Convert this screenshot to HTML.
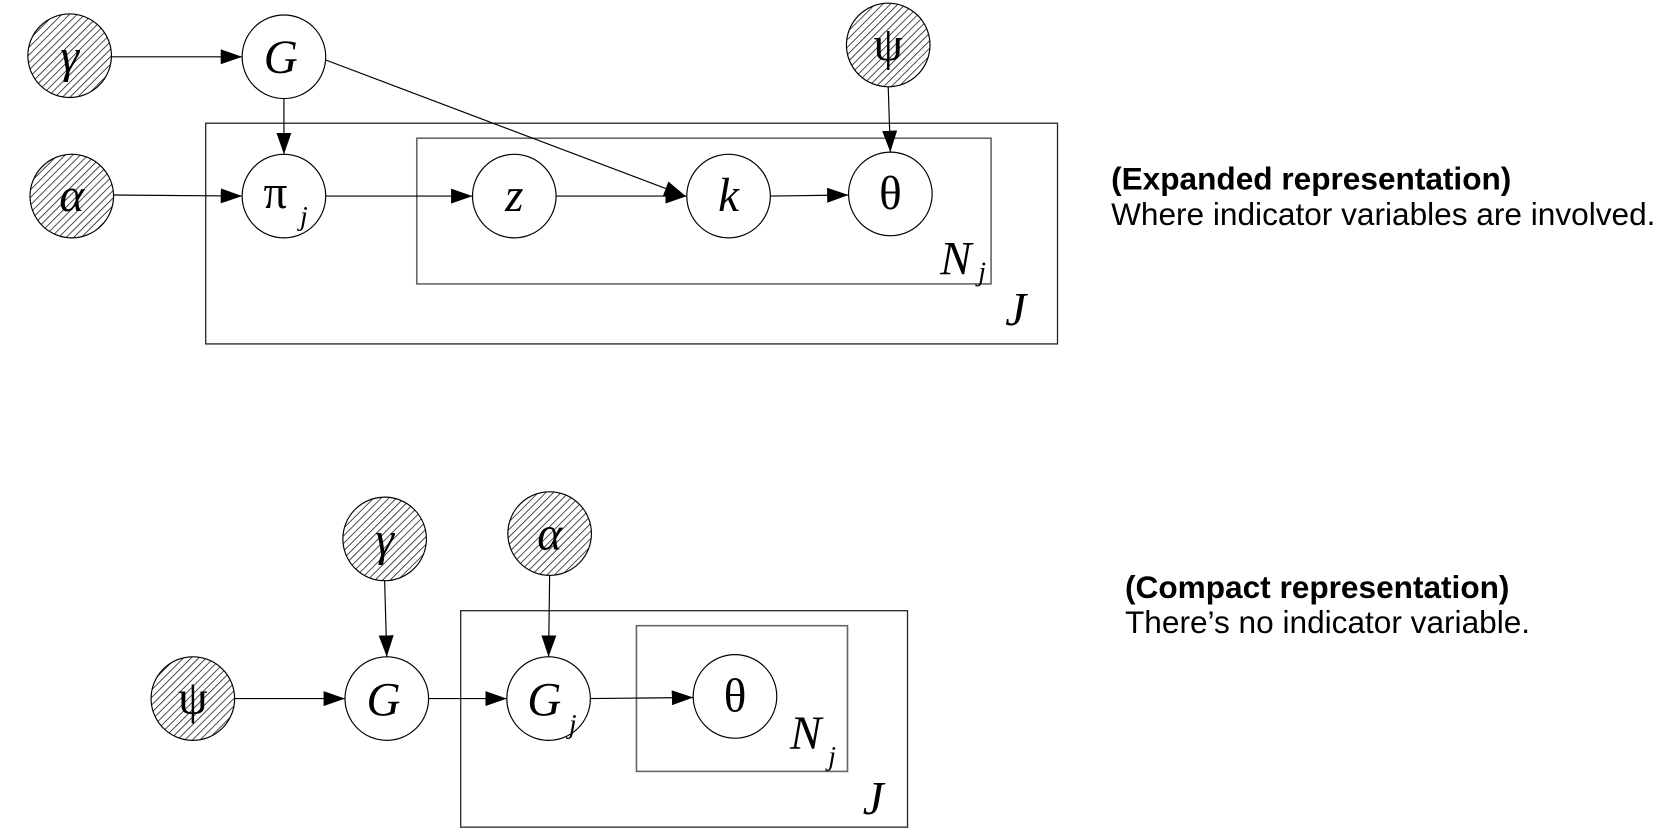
<!DOCTYPE html>
<html><head><meta charset="utf-8"><style>
html,body{margin:0;padding:0;background:#fff;}
svg{display:block;}
.n{font-family:"Liberation Serif",serif;font-size:44px;text-anchor:middle;}
.i{font-style:italic;}
.s{font-family:"Liberation Serif",serif;font-style:italic;font-size:26px;}
.t{font-family:"Liberation Sans",sans-serif;font-size:29.5px;}
</style></head><body>
<svg width="1680" height="840" viewBox="0 0 1568 784" xmlns="http://www.w3.org/2000/svg">
<defs>
<pattern id="h" width="5" height="5" patternUnits="userSpaceOnUse" patternTransform="rotate(45)">
<rect width="5" height="5" fill="#fff"/><line x1="0" y1="0" x2="0" y2="5" stroke="#000" stroke-width="1.3"/>
</pattern>
<marker id="a" markerWidth="20" markerHeight="14" refX="20" refY="7" orient="auto" markerUnits="userSpaceOnUse">
<path d="M0,0 L20,7 L0,14 z" fill="#000"/>
</marker>
</defs>
<g fill="none" stroke-width="1.2">
<rect x="192" y="115" width="795" height="206" stroke="#222"/>
<rect x="389" y="129" width="536" height="136" stroke="#666" stroke-width="1.5"/>
<rect x="430" y="570" width="417" height="202" stroke="#222"/>
<rect x="594" y="584" width="197" height="136" stroke="#666" stroke-width="1.5"/>
</g>
<g stroke="#000" stroke-width="1.1" marker-end="url(#a)">
<line x1="104" y1="53" x2="226" y2="53"/>
<line x1="265" y1="92" x2="265" y2="144"/>
<line x1="304" y1="56" x2="640" y2="183"/>
<line x1="829" y1="81" x2="831" y2="142"/>
<line x1="106" y1="182" x2="226" y2="183"/>
<line x1="304" y1="183" x2="441" y2="183"/>
<line x1="519" y1="183" x2="641" y2="183"/>
<line x1="719" y1="183" x2="792" y2="182"/>
<line x1="359" y1="542" x2="361" y2="613"/>
<line x1="513" y1="537" x2="512" y2="613"/>
<line x1="219" y1="652" x2="322" y2="652"/>
<line x1="400" y1="652" x2="473" y2="652"/>
<line x1="551" y1="652" x2="647" y2="651"/>
</g>
<g stroke="#000" stroke-width="1.1">
<circle cx="65" cy="52" r="39" fill="url(#h)"/>
<circle cx="265" cy="53" r="39" fill="#fff"/>
<circle cx="829" cy="42" r="39" fill="url(#h)"/>
<circle cx="67" cy="183" r="39" fill="url(#h)"/>
<circle cx="265" cy="183" r="39" fill="#fff"/>
<circle cx="480" cy="183" r="39" fill="#fff"/>
<circle cx="680" cy="183" r="39" fill="#fff"/>
<circle cx="831" cy="181" r="39" fill="#fff"/>
<circle cx="359" cy="503" r="39" fill="url(#h)"/>
<circle cx="513" cy="498" r="39" fill="url(#h)"/>
<circle cx="180" cy="652" r="39" fill="url(#h)"/>
<circle cx="361" cy="652" r="39" fill="#fff"/>
<circle cx="512" cy="652" r="39" fill="#fff"/>
<circle cx="686" cy="650" r="39" fill="#fff"/>
</g>
<text class="n i" x="65" y="67">γ</text>
<text class="n i" x="262" y="68">G</text>
<text class="n" x="829" y="56">ψ</text>
<text class="n i" x="67" y="197">α</text>
<text class="n" x="257" y="194">π</text><text class="s" x="280" y="210">j</text>
<text class="n i" x="480" y="197">z</text>
<text class="n i" x="680" y="197">k</text>
<text class="n" x="831" y="195">θ</text>
<text class="n i" x="892" y="256">N</text><text class="s" x="913" y="262">j</text>
<text class="n i" x="948" y="304">J</text>
<text class="n i" x="359" y="518">γ</text>
<text class="n i" x="513" y="513">α</text>
<text class="n" x="180" y="666">ψ</text>
<text class="n i" x="358" y="668">G</text>
<text class="n i" x="508" y="668">G</text><text class="s" x="531" y="684">j</text>
<text class="n" x="686" y="664">θ</text>
<text class="n i" x="752" y="699">N</text><text class="s" x="773" y="714">j</text>
<text class="n i" x="815" y="760">J</text>
<text class="t" x="1037" y="177" font-weight="bold">(Expanded representation)</text>
<text class="t" x="1037" y="210">Where indicator variables are involved.</text>
<text class="t" x="1050" y="558" font-weight="bold">(Compact representation)</text>
<text class="t" x="1050" y="591">There’s no indicator variable.</text>
</svg>
</body></html>
